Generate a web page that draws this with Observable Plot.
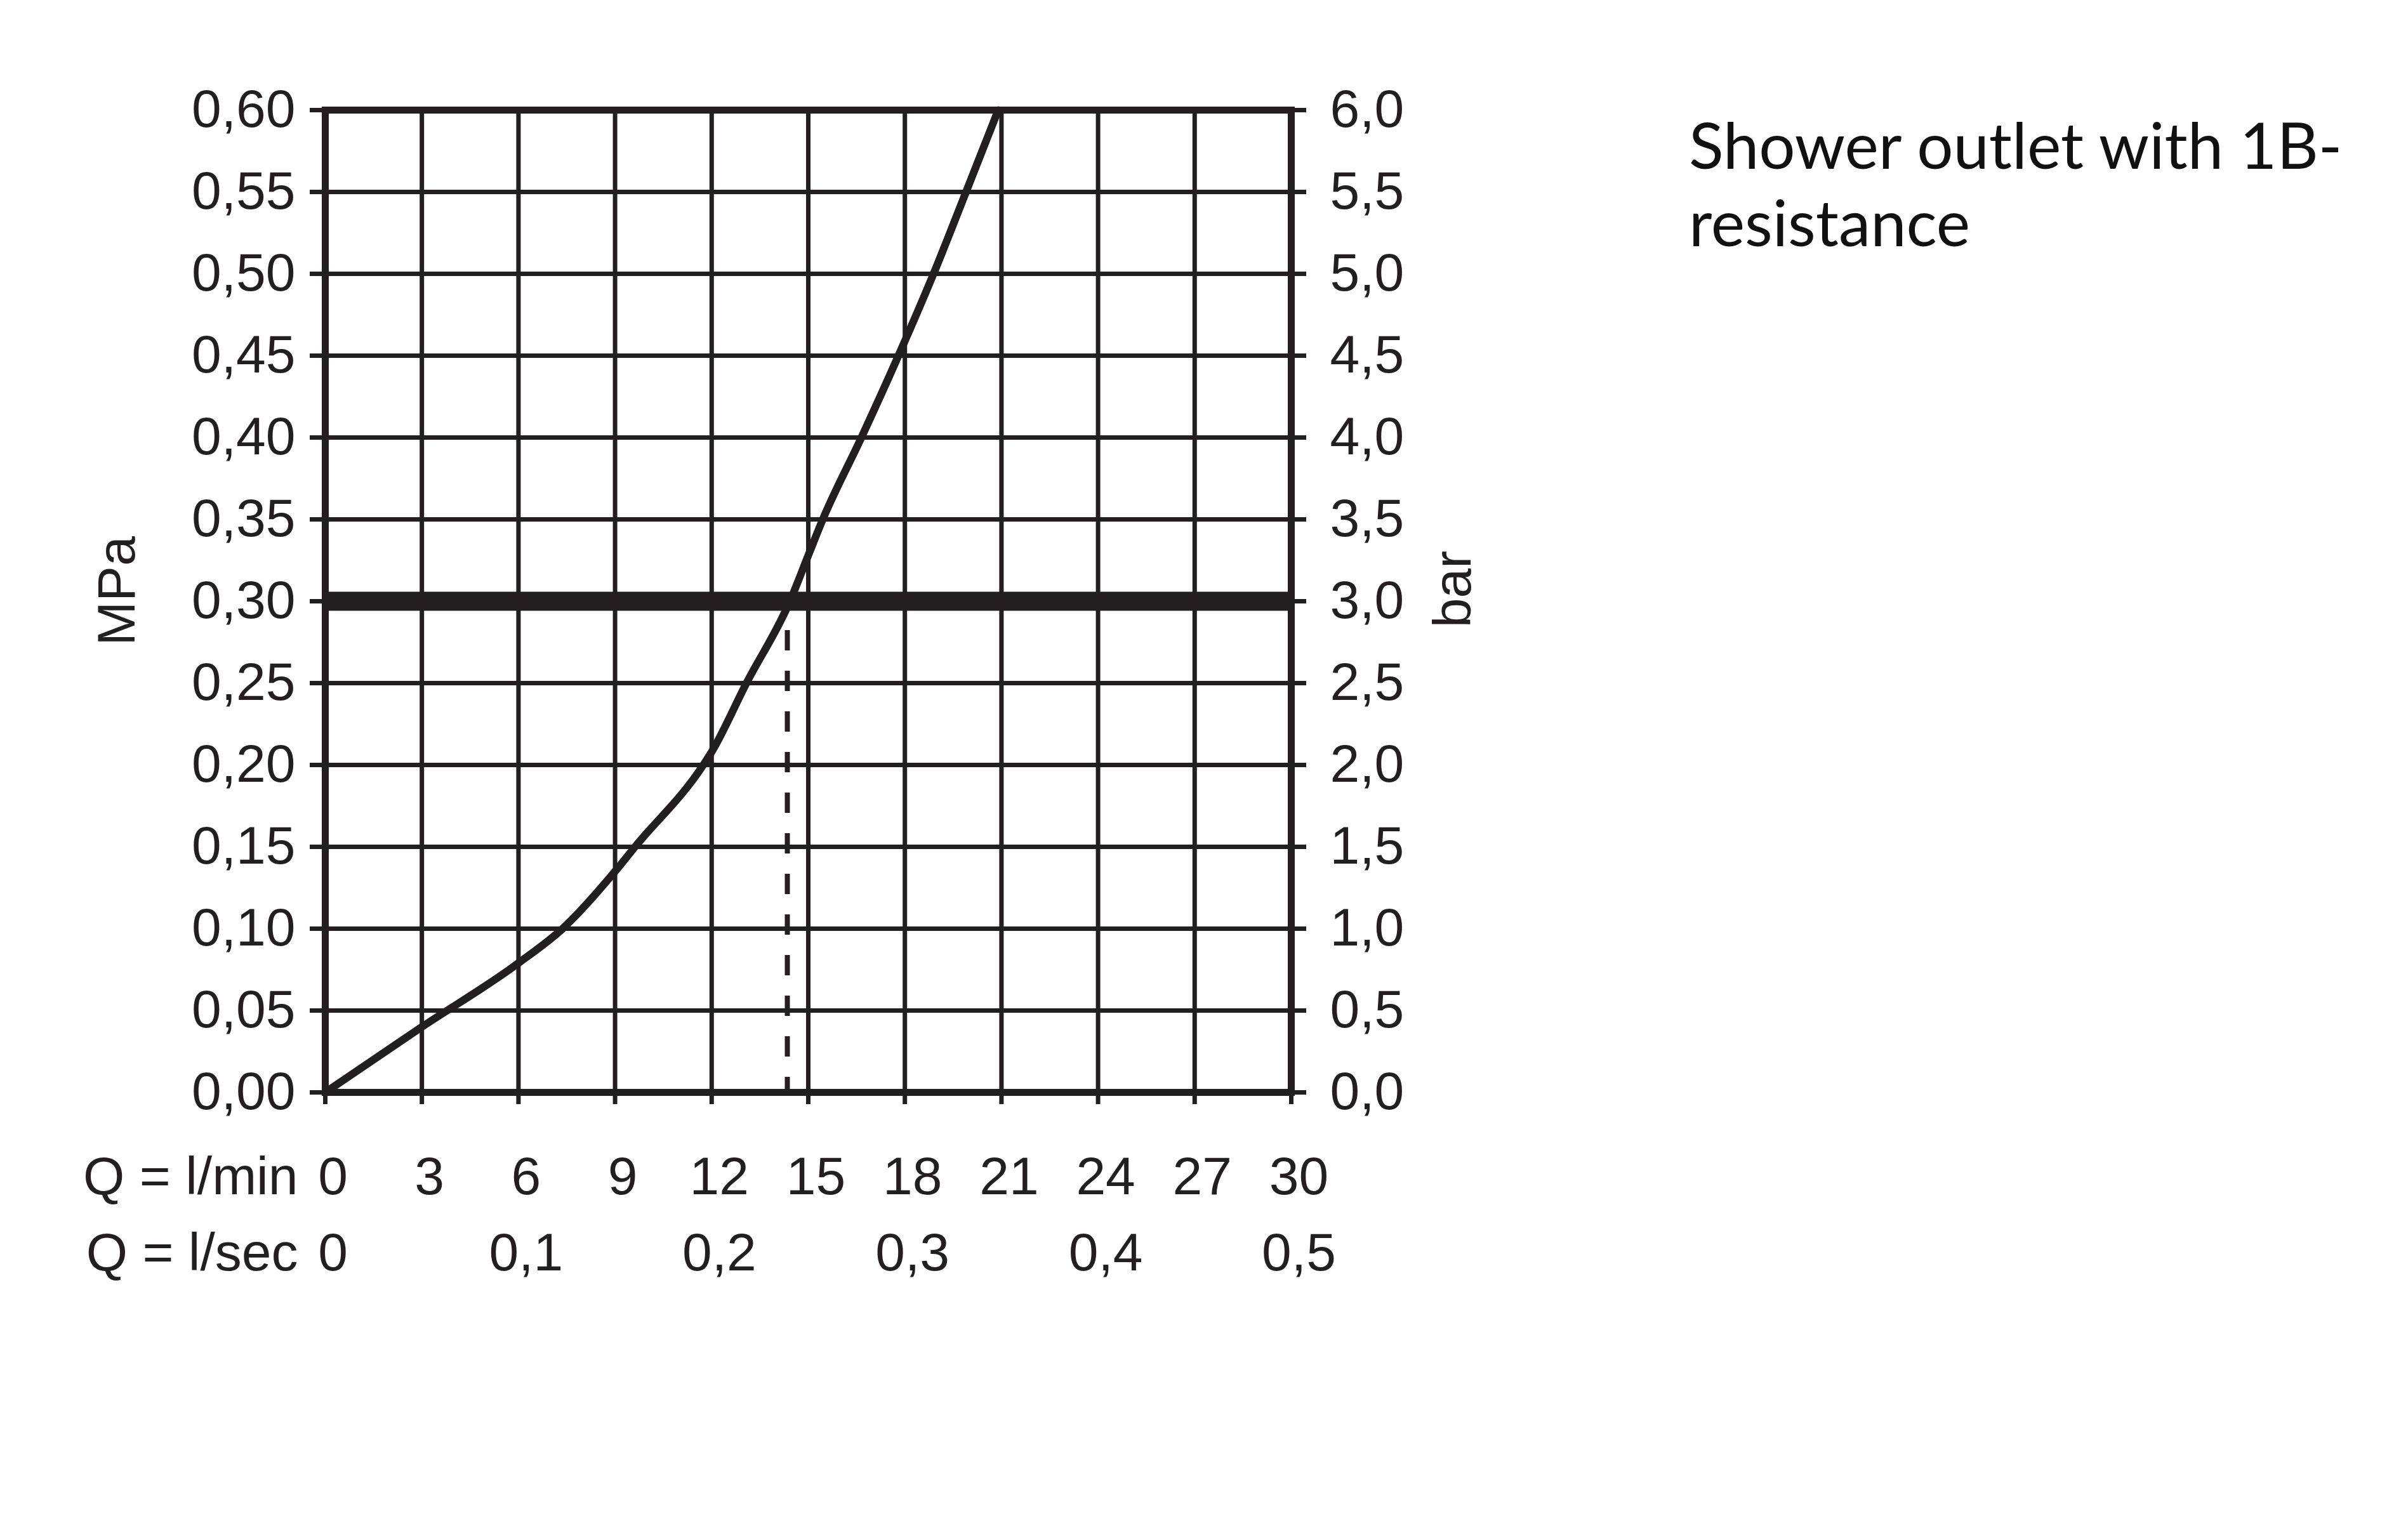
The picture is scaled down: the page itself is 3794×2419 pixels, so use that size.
<!DOCTYPE html>
<html>
<head>
<meta charset="utf-8">
<script src="https://cdn.jsdelivr.net/npm/d3@7"></script>
<script src="https://cdn.jsdelivr.net/npm/@observablehq/plot@0.6"></script>
<style>
  html, body { margin: 0; padding: 0; background: #fff; }
  #wrap { position: relative; width: 3794px; height: 2419px; background: #fff; }
  #chart { position: absolute; left: 0; top: 0; }
  #title { position: absolute; left: 2661px; top: 166px; font-family: Lato, "Noto Sans", sans-serif; font-size: 101px; line-height: 122px; color: #111; white-space: nowrap; }
</style>
</head>
<body>
<div id="wrap">
  <div id="chart"></div>
  <div id="title">Shower outlet with 1B-<br>resistance</div>
</div>
<script>
// Flow (l/min) and pressure loss (MPa)
const flowLpm     = [0, 3, 6, 7.37, 9, 9.62, 11.74, 12, 13.08, 14.43, 15, 15.45, 16.65, 17.8, 18.89, 19.9, 20.9];
const pressureMPa = [0, 0.040, 0.079, 0.10, 0.135, 0.15, 0.20, 0.208, 0.25, 0.30, 0.328, 0.35, 0.40, 0.45, 0.50, 0.55, 0.60];

// Axis ticks
const xTicksLpm = [0, 3, 6, 9, 12, 15, 18, 21, 24, 27, 30];
const xTicksLps = [0, 0.1, 0.2, 0.3, 0.4, 0.5];
const yTicksMPa = [0, 0.05, 0.10, 0.15, 0.20, 0.25, 0.30, 0.35, 0.40, 0.45, 0.50, 0.55, 0.60];

// Reference operating point
const operatingPressure = 0.30;
const operatingFlow = 14.35;

const ink = "#231f20";
const FS = 84;
const data = flowLpm.map((q, i) => ({q, p: pressureMPa[i]}));
const lpsPositions = xTicksLps.map(v => Math.round(v * 60 * 1000) / 1000);
const comma = s => s.replace(".", ",");
const fmtMPa = d => comma(d.toFixed(2));
const fmtBar = d => comma((d * 10).toFixed(1));
const fmtLps = d => d === 0 ? "0" : comma((d / 60).toFixed(1));

const chart = Plot.plot({
  width: 2400,
  height: 2100,
  marginLeft: 512,
  marginRight: 366,
  marginTop: 173,
  marginBottom: 379,
  x: {domain: [0, 30]},
  y: {domain: [0, 0.6]},
  style: {fontFamily: "'Liberation Sans', Arial, sans-serif", fontSize: FS + "px", color: ink, background: "#fff", overflow: "visible"},
  marks: [
    Plot.ruleX(xTicksLpm, {stroke: ink, strokeWidth: 7}),
    Plot.ruleY(yTicksMPa, {stroke: ink, strokeWidth: 7}),
    Plot.axisY(yTicksMPa, {anchor: "left", tickSize: 24, tickPadding: 23, tickFormat: fmtMPa, stroke: ink, strokeWidth: 7, fill: ink, fontSize: FS, label: null}),
    Plot.axisY(yTicksMPa, {anchor: "right", tickSize: 23, tickPadding: 38, tickFormat: fmtBar, stroke: ink, strokeWidth: 7, fill: ink, fontSize: FS, label: null}),
    Plot.axisX(xTicksLpm, {anchor: "bottom", tickSize: 19, stroke: ink, strokeWidth: 7, fill: "none", label: null}),
    Plot.axisX(xTicksLpm, {anchor: "bottom", tickSize: 0, tickPadding: 101, dx: 12, tickFormat: d => String(d), fill: ink, fontSize: FS, label: null}),
    Plot.axisX(lpsPositions, {anchor: "bottom", tickSize: 0, tickPadding: 221, dx: 12, tickFormat: fmtLps, fill: ink, fontSize: FS, label: null}),
    Plot.frame({stroke: ink, strokeWidth: 11}),
    Plot.ruleY([operatingPressure], {stroke: ink, strokeWidth: 30}),
    Plot.ruleX([operatingFlow], {y1: operatingPressure, y2: 0, stroke: ink, strokeWidth: 8, strokeDasharray: "32,32", strokeDashoffset: 18}),
    Plot.line(data, {x: "q", y: "p", curve: "monotone-x", stroke: ink, strokeWidth: 12, strokeLinejoin: "round"}),
    Plot.text(["MPa"], {text: d => d, frameAnchor: "left", textAnchor: "middle", rotate: -90, dx: -327, dy: -16, fill: ink, fontSize: FS}),
    Plot.text(["bar"], {text: d => d, frameAnchor: "right", textAnchor: "middle", rotate: -90, dx: 256, dy: -19, fill: ink, fontSize: FS}),
    Plot.text(["Q = l/min"], {text: d => d, frameAnchor: "bottom-left", textAnchor: "end", lineAnchor: "top", dx: -43, dy: 101, fill: ink, fontSize: FS}),
    Plot.text(["Q = l/sec"], {text: d => d, frameAnchor: "bottom-left", textAnchor: "end", lineAnchor: "top", dx: -43, dy: 221, fill: ink, fontSize: FS})
  ]
});
document.getElementById("chart").appendChild(chart);
</script>
</body>
</html>
